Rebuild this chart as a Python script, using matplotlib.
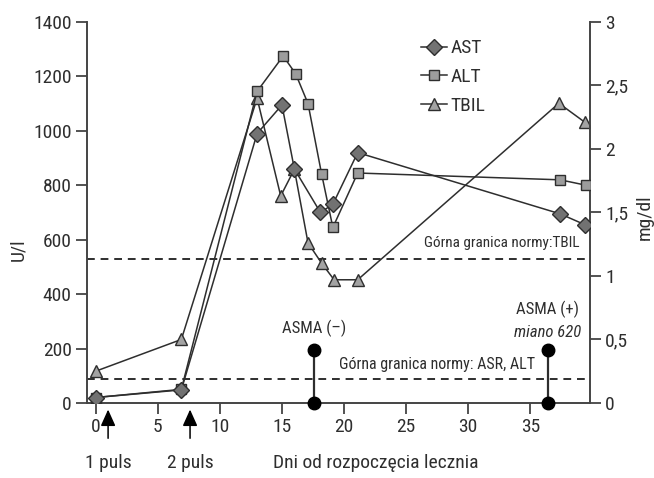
import matplotlib
matplotlib.use('Agg')
import matplotlib.pyplot as plt
from matplotlib.lines import Line2D

plt.rcParams['font.family'] = ['Roboto Condensed', 'DejaVu Sans']

# data
ast_days = [0, 6.9, 13, 15, 16, 18.1, 19.1, 21.1, 37.4, 39.4]
ast_vals = [20, 48, 990, 1095, 860, 700, 730, 920, 695, 655]

alt_days = [0, 6.9, 13, 15.1, 16.1, 17.1, 18.2, 19.1, 21.1, 37.4, 39.5]
alt_vals = [20, 50, 1145, 1275, 1210, 1100, 840, 645, 845, 820, 800]

tbil_days = [0, 6.9, 13, 14.9, 16, 17.1, 18.2, 19.2, 21.1, 37.3, 39.4]
tbil_vals = [0.25, 0.50, 2.40, 1.63, 1.84, 1.26, 1.10, 0.97, 0.97, 2.36, 2.21]

norm_ast_alt = 88      # U/l
norm_tbil = 1.13       # mg/dl

asma_days = [17.6, 36.4]
asma_top = 195

puls_days = [1, 7.6]
puls_labels = ['1 puls', '2 puls']

yticks_right = [0, 0.5, 1, 1.5, 2, 2.5, 3]
yticklabels_right = ['0', '0,5', '1', '1,5', '2', '2,5', '3']

ink = '#2e2e2e'

fig = plt.figure(figsize=(6.54, 4.78), dpi=100)
ax = fig.add_axes([0.133, 0.157, 0.769, 0.797])
ax2 = ax.twinx()
ax.set_zorder(ax2.get_zorder() + 1)
ax.patch.set_visible(False)

ax.set_xlim(-0.7, 39.8)
ax.set_ylim(0, 1400)
ax2.set_ylim(0, 3)

# normal limit lines
ax.axhline(norm_ast_alt, color=ink, lw=1.4, ls=(0, (4, 3)), zorder=1)
ax2.axhline(norm_tbil, color=ink, lw=1.4, ls=(0, (4, 3)), zorder=1)

# series
ax2.plot(tbil_days, tbil_vals, color=ink, lw=1.1, marker='^', ms=8,
         mfc='#a3a3a3', mec=ink, mew=1.0)
ax.plot(alt_days, alt_vals, color=ink, lw=1.1, marker='s', ms=7.5,
        mfc='#9c9c9c', mec=ink, mew=1.0, zorder=3)
ax.plot(ast_days, ast_vals, color=ink, lw=1.1, marker='D', ms=8,
        mfc='#727272', mec=ink, mew=1.0, zorder=4)

# ASMA stems
for d in asma_days:
    ax.plot([d, d], [0, asma_top], color=ink, lw=1.6, zorder=5, clip_on=False)
    ax.plot([d, d], [0, asma_top], ls='none', marker='o', ms=9, color='black',
            zorder=6, clip_on=False)

ax.text(asma_days[0], 275, 'ASMA (–)', ha='center', va='center', fontsize=12, color=ink)
ax.text(asma_days[1], 345, 'ASMA (+)', ha='center', va='center', fontsize=12, color=ink)
ax.text(asma_days[1], 258, 'miano 620', ha='center', va='center', fontsize=12,
        style='italic', color=ink)
ax.text(27.5, 140, 'Górna granica normy: ASR, ALT', ha='center', va='center',
        fontsize=11.5, color=ink)
ax.text(39.0, 587, 'Górna granica normy:TBIL', ha='right', va='center',
        fontsize=11, color=ink)

# treatment pulses
trans = ax.get_xaxis_transform()
for d, lab in zip(puls_days, puls_labels):
    ax.annotate('', xy=(d, -0.01), xytext=(d, -0.10), xycoords=trans,
                textcoords=trans,
                arrowprops=dict(arrowstyle='-|>,head_length=1.0,head_width=0.45',
                                color='black', lw=1.1))
    ax.text(d, -0.157, lab, transform=trans, ha='center', va='center',
            fontsize=14, color=ink)
ax.text(14.3, -0.157, 'Dni od rozpoczęcia lecznia', transform=trans, ha='left',
        va='center', fontsize=14, color=ink)

# axes styling
ax.set_xticks(range(0, 40, 5))
ax.set_yticks(range(0, 1401, 200))
ax2.set_yticks(yticks_right)
ax2.set_yticklabels(yticklabels_right)
for a in (ax, ax2):
    a.spines['top'].set_visible(False)
    for s in a.spines.values():
        s.set_color('#444444')
        s.set_linewidth(1.4)
    a.tick_params(length=8, width=1.3, color='#444444', labelsize=14,
                  labelcolor=ink, pad=3)
ax.spines['right'].set_visible(False)
ax2.spines['left'].set_visible(False)
ax2.spines['bottom'].set_visible(False)

fig.text(0.028, 0.477, 'U/l', rotation=90, ha='center', va='center', fontsize=14, color=ink)
fig.text(0.986, 0.545, 'mg/dl', rotation=90, ha='center', va='center', fontsize=14, color=ink)

handles = [
    Line2D([], [], color=ink, lw=1.1, marker='D', ms=8, mfc='#727272', mec=ink),
    Line2D([], [], color=ink, lw=1.1, marker='s', ms=7.5, mfc='#9c9c9c', mec=ink),
    Line2D([], [], color=ink, lw=1.1, marker='^', ms=8, mfc='#a3a3a3', mec=ink),
]
ax.legend(handles, ['AST', 'ALT', 'TBIL'], loc='upper left',
          bbox_to_anchor=(0.63, 1.0), frameon=False, fontsize=14,
          handlelength=1.3, handletextpad=0.2, labelspacing=0.55,
          labelcolor=ink)

fig.savefig('out.png', dpi=100)
